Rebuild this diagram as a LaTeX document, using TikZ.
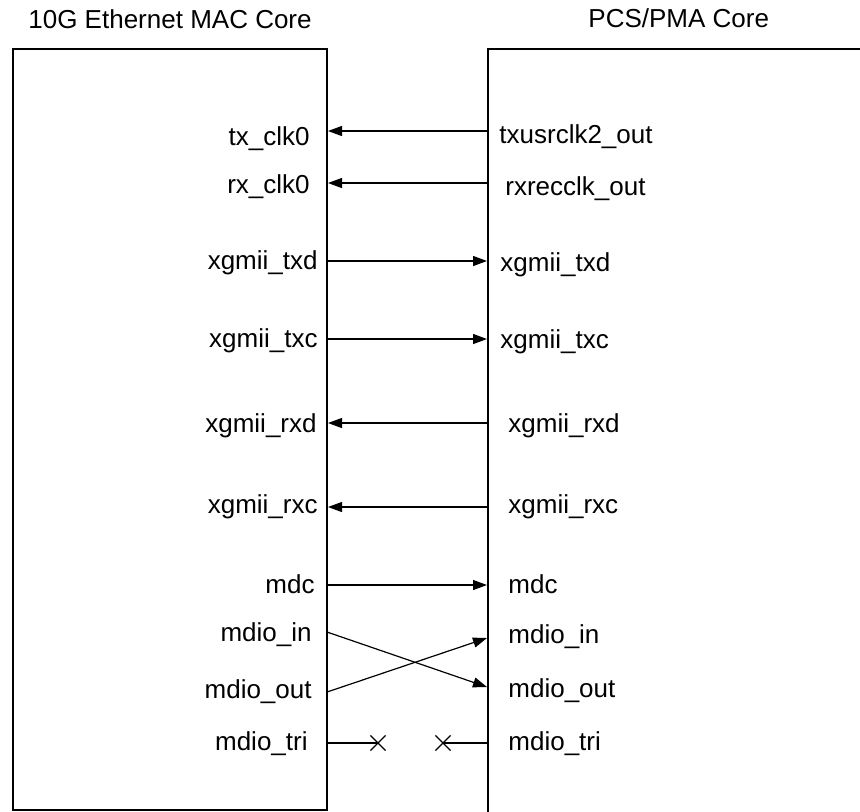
\documentclass[tikz,border=0pt]{standalone}
\usepackage{fontspec}
\setmainfont{Liberation Sans}
\usetikzlibrary{arrows.meta,shapes.misc}

\begin{document}
\begin{tikzpicture}[x=0.5pt,y=-0.5pt,>={Triangle[length=7pt,width=5pt]},
font=\fontsize{13}{15}\selectfont,
core/.style={draw,line width=1pt},
sig/.style={->,line width=0.6pt},
wire/.style={line width=0.6pt},
lpin/.style={anchor=base east,inner sep=0pt},
rpin/.style={anchor=base west,inner sep=0pt},
cut/.style={draw,cross out,line width=0.6pt,minimum size=7pt,inner sep=0pt}]
\useasboundingbox (0,0) rectangle (860,811);
\clip (0,0) rectangle (860,811);

% cores
\node[anchor=base west,inner sep=0pt] (mactitle) at (28,28) {10G Ethernet MAC Core};
\node[anchor=base west,inner sep=0pt] (pcstitle) at (588,27) {PCS/PMA Core};
\draw[core] (12.5,49) rectangle (327,809.5);
\draw[core] (488,49) rectangle (900,850);

% clocks
\coordinate (mtx) at (328,131); \coordinate (ptx) at (488,131);
\node[lpin] (mtxl) at (310,145) {tx\_clk0};
\node[rpin] (ptxl) at (499,143) {txusrclk2\_out};
\draw[sig] (ptx)--(mtx);
\coordinate (mrx) at (328,183); \coordinate (prx) at (488,183);
\node[lpin] (mrxl) at (310,193) {rx\_clk0};
\node[rpin] (prxl) at (505,195) {rxrecclk\_out};
\draw[sig] (prx)--(mrx);

% xgmii
\coordinate (mtxd) at (327,261); \coordinate (ptxd) at (487,261);
\node[lpin] (mtxdl) at (318,269) {xgmii\_txd};
\node[rpin] (ptxdl) at (500,271) {xgmii\_txd};
\draw[sig] (mtxd)--(ptxd);
\coordinate (mtxc) at (327,339); \coordinate (ptxc) at (487,339);
\node[lpin] (mtxcl) at (318,347) {xgmii\_txc};
\node[rpin] (ptxcl) at (500,348) {xgmii\_txc};
\draw[sig] (mtxc)--(ptxc);
\coordinate (mrxd) at (328,423); \coordinate (prxd) at (488,423);
\node[lpin] (mrxdl) at (317,432) {xgmii\_rxd};
\node[rpin] (prxdl) at (508,432) {xgmii\_rxd};
\draw[sig] (prxd)--(mrxd);
\coordinate (mrxc) at (328,507); \coordinate (prxc) at (488,507);
\node[lpin] (mrxcl) at (318,513) {xgmii\_rxc};
\node[rpin] (prxcl) at (508,513) {xgmii\_rxc};
\draw[sig] (prxc)--(mrxc);

% mdio
\coordinate (mmdc) at (327,585); \coordinate (pmdc) at (487,585);
\node[lpin] (mmdcl) at (315,593) {mdc};
\node[rpin] (pmdcl) at (508,593) {mdc};
\draw[sig] (mmdc)--(pmdc);
\coordinate (min) at (327,632); \coordinate (pin) at (487,638);
\coordinate (mout) at (327,692); \coordinate (pout) at (487,687);
\node[lpin] (minl) at (312,641) {mdio\_in};
\node[lpin] (moutl) at (312,698) {mdio\_out};
\node[rpin] (pinl) at (508,643) {mdio\_in};
\node[rpin] (poutl) at (508,697) {mdio\_out};
\draw[sig] (min)--(pout);
\draw[sig] (mout)--(pin);
\coordinate (mtri) at (327,743); \coordinate (ptri) at (488,743);
\node[lpin] (mtril) at (308,750) {mdio\_tri};
\node[rpin] (ptril) at (508,750) {mdio\_tri};
\node[cut] (mcut) at (378,743) {};
\node[cut] (pcut) at (443,743) {};
\draw[wire] (mtri)--(mcut.center);
\draw[wire] (ptri)--(pcut.center);
\end{tikzpicture}
\end{document}
